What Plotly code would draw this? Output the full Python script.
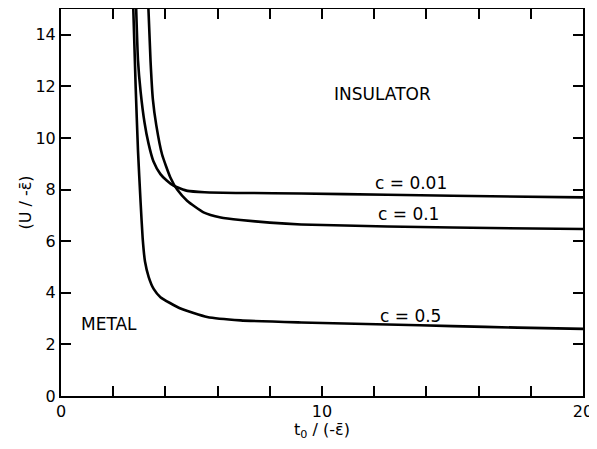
import plotly.graph_objects as go

# c = 0.01
x_c001 = [2.88, 2.95, 3.05, 3.2, 3.35, 3.54, 3.81, 4.05, 4.31, 4.85, 5.5, 7.0, 9.2, 12.5, 15.0, 20.0]
y_c001 = [15.0, 13.0, 11.8, 10.6, 9.8, 9.1, 8.6, 8.35, 8.15, 7.95, 7.9, 7.87, 7.85, 7.8, 7.76, 7.7]
# c = 0.1
x_c01 = [3.35, 3.43, 3.52, 3.65, 3.87, 4.19, 4.45, 4.83, 5.46, 6.12, 6.88, 8.0, 9.2, 12.5, 15.0, 20.0]
y_c01 = [15.0, 13.0, 11.5, 10.5, 9.37, 8.47, 8.0, 7.57, 7.12, 6.92, 6.82, 6.72, 6.65, 6.57, 6.53, 6.47]
# c = 0.5
x_c05 = [2.77, 2.86, 2.95, 3.05, 3.13, 3.22, 3.36, 3.55, 3.81, 4.58, 5.6, 6.88, 9.2, 12.5, 15.0, 17.5, 20.0]
y_c05 = [15.0, 12.0, 9.5, 7.5, 6.1, 5.2, 4.61, 4.15, 3.83, 3.39, 3.06, 2.93, 2.85, 2.77, 2.71, 2.65, 2.6]

series = [("c = 0.01", x_c001, y_c001), ("c = 0.1", x_c01, y_c01), ("c = 0.5", x_c05, y_c05)]

x_tickvals = [0, 10, 20]
y_tickvals = [0, 2, 4, 6, 8, 10, 12, 14]

fig = go.Figure()
for name, xs, ys in series:
    fig.add_trace(go.Scatter(x=xs, y=ys, mode="lines", name=name,
                             line=dict(color="black", width=2.6, shape="spline", smoothing=0.5),
                             showlegend=False, cliponaxis=True))

font = "DejaVu Sans, Arial, sans-serif"
annots = [
    dict(x=12.3, y=11.7, text="INSULATOR"),
    dict(x=1.85, y=2.8, text="METAL"),
    dict(x=13.4, y=8.25, text="c = 0.01"),
    dict(x=13.3, y=7.05, text="c = 0.1"),
    dict(x=13.4, y=3.1, text="c = 0.5"),
]
for a in annots:
    fig.add_annotation(x=a["x"], y=a["y"], text=a["text"], showarrow=False,
                       font=dict(family=font, size=17, color="black"))

axis_common = dict(showline=True, linecolor="black", linewidth=2, mirror="ticks",
                   ticks="inside", ticklen=10, tickwidth=1.5, tickcolor="black",
                   showgrid=False, zeroline=False, automargin=False,
                   tickfont=dict(family=font, size=16, color="black"))

fig.update_xaxes(range=[0, 20], tickvals=x_tickvals,
                 minor=dict(dtick=2, ticks="inside", ticklen=10, tickwidth=1.5, tickcolor="black"),
                 title=dict(text="t<sub>0</sub> / (-ε̄)", font=dict(family=font, size=16, color="black"), standoff=0),
                 **axis_common)
fig.update_yaxes(range=[0, 15], tickvals=y_tickvals,
                 title=dict(text="(U / -ε̄)", font=dict(family=font, size=16, color="black"), standoff=0),
                 **axis_common)

# the page body adds an 8 px offset, so the figure is sized to fit inside the window
fig.update_layout(width=589, height=433, margin=dict(l=53, r=14, t=1, b=45),
                  plot_bgcolor="white", paper_bgcolor="white")
fig.write_html("out.html")
